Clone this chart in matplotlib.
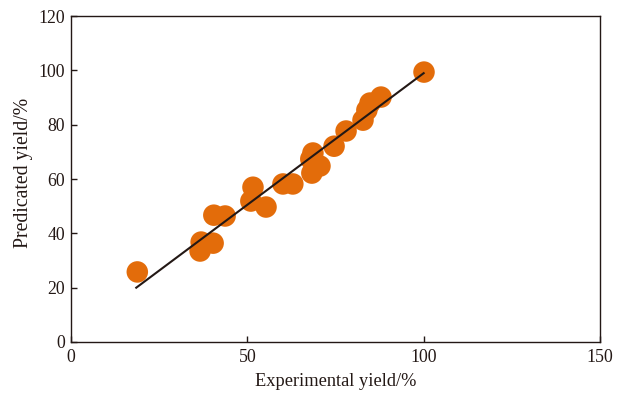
import matplotlib
matplotlib.use("Agg")
import matplotlib.pyplot as plt

experimental = [18.8, 36.9, 36.6, 40.3, 40.5, 43.7, 51.0, 51.6, 55.3, 60.1, 62.9,
                68.3, 68.0, 68.6, 70.6, 74.6, 78.0, 82.8, 83.9, 84.8, 87.9, 100.1]
predicted = [25.8, 36.8, 33.5, 36.4, 46.7, 46.4, 51.9, 57.0, 49.7, 58.2, 58.2,
             62.2, 67.4, 69.6, 64.8, 72.1, 77.7, 81.7, 85.4, 88.0, 90.2, 99.4]
fit_x = [18.5, 100.0]
fit_y = [20.0, 99.0]
x_ticks = [0, 50, 100, 150]
y_ticks = [0, 20, 40, 60, 80, 100, 120]

plt.rcParams['font.family'] = ['Liberation Serif', 'DejaVu Serif']
fig = plt.figure(figsize=(6.24, 3.94), dpi=100)
ax = fig.add_axes([0.1138, 0.132, 0.8477, 0.827])
ax.scatter(experimental, predicted, s=240, color='#E36C0A', edgecolors='none', zorder=2)
ax.plot(fit_x, fit_y, color='#231815', lw=1.5, zorder=3)
ax.set_xlim(0, 150)
ax.set_ylim(0, 120)
ax.set_xticks(x_ticks)
ax.set_yticks(y_ticks)
ax.tick_params(direction='in', length=4, width=1, labelsize=12.8,
               colors='#231815', labelcolor='#231815')
ax.tick_params(axis='x', pad=5)
ax.tick_params(axis='y', pad=4.5)
for sp in ax.spines.values():
    sp.set_linewidth(1.0)
    sp.set_color('#231815')
ax.set_xlabel('Experimental yield/%', fontsize=13.2, labelpad=5, color='#231815')
ax.set_ylabel('Predicated yield/%', fontsize=14.2, color='#231815')
ax.yaxis.set_label_coords(-0.072, 0.52)
fig.savefig('out.png', dpi=100)
